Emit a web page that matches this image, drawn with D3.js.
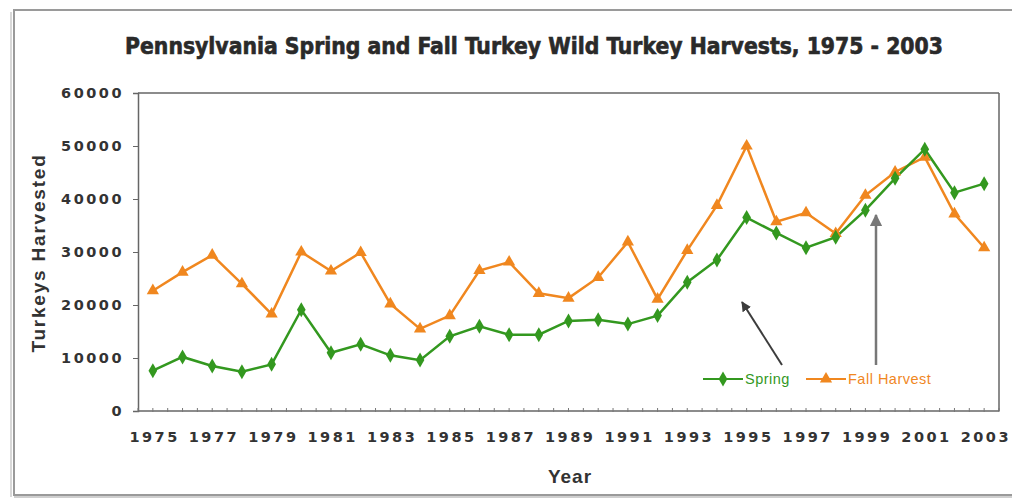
<!DOCTYPE html>
<html>
<head>
<meta charset="utf-8">
<script src="https://cdn.jsdelivr.net/npm/d3@7"></script>
<style>
  html, body { margin: 0; padding: 0; background: #fff; }
  svg { display: block; }
</style>
</head>
<body>
<svg id="chart" width="1012" height="499"></svg>
<script>
const years = d3.range(1975, 2004);
const springValues = [7600, 10200, 8500, 7400, 8800, 19100, 11000, 12600, 10500, 9600,
  14100, 16000, 14400, 14400, 17000, 17200, 16400, 18000, 24300, 28500,
  36500, 33600, 30800, 32800, 37900, 43900, 49400, 41200, 42900];
const fallValues = [22700, 26200, 29400, 24000, 18300, 30000, 26400, 29900, 20200, 15500,
  18000, 26500, 28100, 22200, 21300, 25200, 31900, 21100, 30300, 38800,
  50000, 35700, 37400, 33500, 40700, 45100, 47900, 37200, 30800];
const yTicks = [0, 10000, 20000, 30000, 40000, 50000, 60000];
const xLabelYears = d3.range(1975, 2004, 2);
const titleText = "Pennsylvania Spring and Fall Turkey Wild Turkey Harvests, 1975 - 2003";
const seriesNames = ["Spring", "Fall Harvest"];

const green = "#33981f", orange = "#f0871f";
const svg = d3.select("#chart");

// outer frame
svg.append("rect").attr("x", 14).attr("y", 10).attr("width", 1010).attr("height", 485)
  .attr("fill", "#fff").attr("stroke", "#9a9a9a").attr("stroke-width", 2);
svg.append("line").attr("x1", 11).attr("x2", 11).attr("y1", 12).attr("y2", 497)
  .attr("stroke", "#d8d8d8").attr("stroke-width", 2);
svg.append("line").attr("x1", 14).attr("x2", 1012).attr("y1", 497).attr("y2", 497)
  .attr("stroke", "#cfcfcf").attr("stroke-width", 2);

const L = 138, R = 999, T = 93, B = 411;
const x = d3.scalePoint().domain(years).range([L, R]).padding(0.5);
const y = d3.scaleLinear().domain([0, 60000]).range([B, T]);

// title, sized to span the measured width of the original
const title = svg.append("text").attr("x", 534).attr("y", 54).attr("text-anchor", "middle")
  .attr("font-family", "'Liberation Sans Narrow', 'DejaVu Sans Condensed', sans-serif")
  .attr("font-weight", "bold").attr("font-size", 25).attr("fill", "#2a2a2a")
  .attr("stroke", "#2a2a2a").attr("stroke-width", 0.6)
  .text(titleText);
const tw = title.node().getComputedTextLength();
if (tw > 0) title.attr("font-size", (25 * 818 / tw).toFixed(2));

// plot box top/right
svg.append("line").attr("x1", L).attr("x2", R).attr("y1", T).attr("y2", T).attr("stroke", "#666").attr("stroke-width", 1.5);
svg.append("line").attr("x1", R).attr("x2", R).attr("y1", T).attr("y2", B).attr("stroke", "#666").attr("stroke-width", 1.5);

const tickFont = "'DejaVu Sans', Verdana, sans-serif";

// y axis
const yAxis = d3.axisLeft(y).tickValues(yTicks).tickSize(5).tickPadding(8).tickFormat(d3.format("d"));
const gy = svg.append("g").attr("transform", `translate(${L},0)`).call(yAxis);
gy.select(".domain").attr("stroke", "#666").attr("stroke-width", 1.5);
gy.selectAll(".tick line").attr("stroke", "#666");
gy.selectAll(".tick text").attr("font-family", tickFont)
  .attr("font-weight", "bold").attr("font-size", 14.5).attr("fill", "#333")
  .attr("letter-spacing", "2.5px").attr("dx", "-1");

// x axis
const bandW = x.step();
const tickPositions = [];
years.forEach(yr => { tickPositions.push(x(yr) - bandW / 2); tickPositions.push(x(yr)); });
tickPositions.push(R);
svg.append("line").attr("x1", L).attr("x2", R).attr("y1", B).attr("y2", B).attr("stroke", "#666").attr("stroke-width", 1.5);
svg.append("g").selectAll("line").data(tickPositions).join("line")
  .attr("x1", d => d).attr("x2", d => d).attr("y1", B - 3).attr("y2", B + 1)
  .attr("stroke", "#777").attr("stroke-width", 1);
const xAxis = d3.axisBottom(x).tickValues(xLabelYears).tickSize(0).tickPadding(21);
const gx = svg.append("g").attr("transform", `translate(0,${B})`).call(xAxis);
gx.select(".domain").remove();
gx.selectAll(".tick text").attr("font-family", tickFont)
  .attr("font-weight", "bold").attr("font-size", 14.5).attr("fill", "#333")
  .attr("letter-spacing", "2.5px").attr("dx", "1.2");

// axis titles
svg.append("text").attr("transform", "translate(45,253) rotate(-90)").attr("text-anchor", "middle")
  .attr("font-family", "'Liberation Sans', Arial, sans-serif").attr("font-weight", "bold")
  .attr("font-size", 19).attr("letter-spacing", "1.8px").attr("fill", "#333").text("Turkeys Harvested");
svg.append("text").attr("x", 570).attr("y", 483).attr("text-anchor", "middle")
  .attr("font-family", "'Liberation Sans', Arial, sans-serif").attr("font-weight", "bold")
  .attr("font-size", 19).attr("letter-spacing", "1px").attr("fill", "#333").text("Year");

// lines
const line = d3.line().x((d, i) => x(years[i])).y(d => y(d));
svg.append("path").datum(fallValues).attr("d", line).attr("fill", "none")
  .attr("stroke", orange).attr("stroke-width", 2.5);
svg.append("path").datum(springValues).attr("d", line).attr("fill", "none")
  .attr("stroke", green).attr("stroke-width", 2.5);

const tri = d3.symbol().type(d3.symbolTriangle).size(65);
const dia = d3.symbol().type(d3.symbolDiamond).size(65);
svg.append("g").selectAll("path").data(fallValues).join("path")
  .attr("d", tri).attr("transform", (d, i) => `translate(${x(years[i])},${y(d)})`).attr("fill", orange);
svg.append("g").selectAll("path").data(springValues).join("path")
  .attr("d", dia).attr("transform", (d, i) => `translate(${x(years[i])},${y(d)})`).attr("fill", green);

// arrows
const defs = svg.append("defs");
function marker(id, color) {
  defs.append("marker").attr("id", id).attr("viewBox", "0 0 10 10").attr("refX", 9).attr("refY", 5)
    .attr("markerWidth", 5).attr("markerHeight", 5).attr("orient", "auto")
    .append("path").attr("d", "M0,0 L10,5 L0,10 z").attr("fill", color);
}
marker("ah1", "#3c3c3c");
marker("ah2", "#777");
svg.append("line").attr("x1", 782).attr("y1", 365).attr("x2", 742).attr("y2", 302)
  .attr("stroke", "#3c3c3c").attr("stroke-width", 2).attr("marker-end", "url(#ah1)");
svg.append("line").attr("x1", 876).attr("y1", 365).attr("x2", 876).attr("y2", 215)
  .attr("stroke", "#777").attr("stroke-width", 2.5).attr("marker-end", "url(#ah2)");

// legend
const legend = svg.append("g").attr("font-family", "'Liberation Sans', Arial, sans-serif").attr("font-size", 14.5);
const legendItems = [
  { name: seriesNames[0], color: green, sym: dia, x0: 703 },
  { name: seriesNames[1], color: orange, sym: tri, x0: 806 }
];
legendItems.forEach(it => {
  legend.append("line").attr("x1", it.x0).attr("x2", it.x0 + 40).attr("y1", 379).attr("y2", 379)
    .attr("stroke", it.color).attr("stroke-width", 2);
  legend.append("path").attr("d", it.sym).attr("transform", `translate(${it.x0 + 20},379)`).attr("fill", it.color);
  legend.append("text").attr("x", it.x0 + 42).attr("y", 384).attr("fill", it.color)
    .attr("letter-spacing", "0.5px").text(it.name);
});
</script>
</body>
</html>
